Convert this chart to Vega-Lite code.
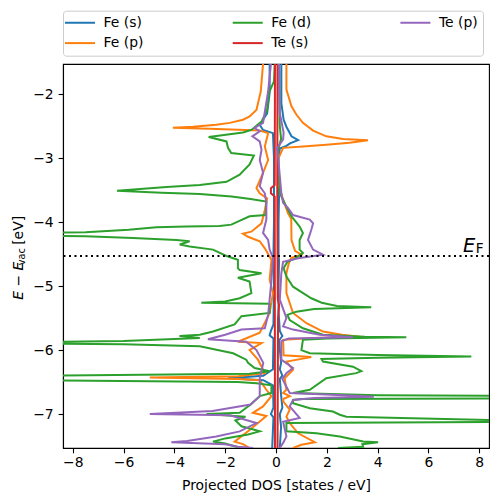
{
"$schema":"https://vega.github.io/schema/vega-lite/v6.json",
"width":426,"height":384,
"autosize":{"type":"none"},
"padding":{"left":63,"top":64,"right":9,"bottom":54},
"config":{
 "font":"DejaVu Sans",
 "view":{"stroke":"black","strokeWidth":1.1},
 "axis":{"grid":false,"domainColor":"black","domainWidth":1.1,"tickColor":"black","tickWidth":1.1,"tickSize":4.86,
  "labelFont":"DejaVu Sans","labelFontSize":13.9,"labelColor":"black","labelFlush":false,"labelOverlap":false,
  "titleFont":"DejaVu Sans","titleFontSize":13.9,"titleFontWeight":"normal","titleColor":"black",
  "labelExpr":"(datum.value < 0 ? '−' : '') + abs(datum.value)"}
},
"datasets":{
"dos":[
{"o":"Fe (s)","s":"u","e":-1.53,"d":0.21},{"o":"Fe (s)","s":"u","e":-2.14,"d":0.21},{"o":"Fe (s)","s":"u","e":-2.4,"d":0.3},{"o":"Fe (s)","s":"u","e":-2.51,"d":0.41},{"o":"Fe (s)","s":"u","e":-2.66,"d":0.61},{"o":"Fe (s)","s":"u","e":-2.72,"d":0.87},{"o":"Fe (s)","s":"u","e":-2.77,"d":0.55},{"o":"Fe (s)","s":"u","e":-2.81,"d":0.41},{"o":"Fe (s)","s":"u","e":-2.85,"d":0.15},{"o":"Fe (s)","s":"u","e":-3.0,"d":0.1},{"o":"Fe (s)","s":"u","e":-3.5,"d":0.08},{"o":"Fe (s)","s":"u","e":-3.6,"d":0.12},{"o":"Fe (s)","s":"u","e":-4.0,"d":0.1},{"o":"Fe (s)","s":"u","e":-4.5,"d":0.1},{"o":"Fe (s)","s":"u","e":-4.6,"d":0.12},{"o":"Fe (s)","s":"u","e":-5.0,"d":0.1},{"o":"Fe (s)","s":"u","e":-5.4,"d":0.1},{"o":"Fe (s)","s":"u","e":-5.7,"d":0.15},{"o":"Fe (s)","s":"u","e":-5.78,"d":0.25},{"o":"Fe (s)","s":"u","e":-5.85,"d":0.12},{"o":"Fe (s)","s":"u","e":-6.2,"d":0.2},{"o":"Fe (s)","s":"u","e":-6.3,"d":0.15},{"o":"Fe (s)","s":"u","e":-6.4,"d":0.25},{"o":"Fe (s)","s":"u","e":-6.45,"d":0.15},{"o":"Fe (s)","s":"u","e":-6.7,"d":0.2},{"o":"Fe (s)","s":"u","e":-6.9,"d":0.25},{"o":"Fe (s)","s":"u","e":-7.0,"d":0.15},{"o":"Fe (s)","s":"u","e":-7.2,"d":0.2},{"o":"Fe (s)","s":"u","e":-7.53,"d":0.15},
{"o":"Fe (s)","s":"d","e":-1.53,"d":-0.25},{"o":"Fe (s)","s":"d","e":-1.98,"d":-0.25},{"o":"Fe (s)","s":"d","e":-2.3,"d":-0.35},{"o":"Fe (s)","s":"d","e":-2.48,"d":-0.64},{"o":"Fe (s)","s":"d","e":-2.56,"d":-0.51},{"o":"Fe (s)","s":"d","e":-2.61,"d":-0.12},{"o":"Fe (s)","s":"d","e":-3.0,"d":-0.08},{"o":"Fe (s)","s":"d","e":-4.0,"d":-0.08},{"o":"Fe (s)","s":"d","e":-4.5,"d":-0.1},{"o":"Fe (s)","s":"d","e":-5.0,"d":-0.08},{"o":"Fe (s)","s":"d","e":-5.6,"d":-0.1},{"o":"Fe (s)","s":"d","e":-5.7,"d":-0.2},{"o":"Fe (s)","s":"d","e":-5.77,"d":-0.25},{"o":"Fe (s)","s":"d","e":-5.82,"d":-0.1},{"o":"Fe (s)","s":"d","e":-6.3,"d":-0.12},{"o":"Fe (s)","s":"d","e":-6.4,"d":-0.5},{"o":"Fe (s)","s":"d","e":-6.44,"d":-1.89},{"o":"Fe (s)","s":"d","e":-6.47,"d":-0.5},{"o":"Fe (s)","s":"d","e":-6.55,"d":-0.12},{"o":"Fe (s)","s":"d","e":-6.9,"d":-0.1},{"o":"Fe (s)","s":"d","e":-7.0,"d":-0.2},{"o":"Fe (s)","s":"d","e":-7.05,"d":-0.1},{"o":"Fe (s)","s":"d","e":-7.53,"d":-0.15},
{"o":"Fe (p)","s":"u","e":-1.53,"d":0.41},{"o":"Fe (p)","s":"u","e":-1.93,"d":0.41},{"o":"Fe (p)","s":"u","e":-2.19,"d":0.61},{"o":"Fe (p)","s":"u","e":-2.32,"d":0.8},{"o":"Fe (p)","s":"u","e":-2.45,"d":1.06},{"o":"Fe (p)","s":"u","e":-2.57,"d":1.46},{"o":"Fe (p)","s":"u","e":-2.66,"d":1.98},{"o":"Fe (p)","s":"u","e":-2.7,"d":2.64},{"o":"Fe (p)","s":"u","e":-2.72,"d":3.62},{"o":"Fe (p)","s":"u","e":-2.76,"d":2.9},{"o":"Fe (p)","s":"u","e":-2.79,"d":1.98},{"o":"Fe (p)","s":"u","e":-2.82,"d":1.06},{"o":"Fe (p)","s":"u","e":-2.84,"d":0.28},{"o":"Fe (p)","s":"u","e":-3.0,"d":0.1},{"o":"Fe (p)","s":"u","e":-3.39,"d":0.08},{"o":"Fe (p)","s":"u","e":-3.65,"d":0.28},{"o":"Fe (p)","s":"u","e":-3.86,"d":0.47},{"o":"Fe (p)","s":"u","e":-3.95,"d":0.6},{"o":"Fe (p)","s":"u","e":-4.28,"d":0.61},{"o":"Fe (p)","s":"u","e":-4.45,"d":0.75},{"o":"Fe (p)","s":"u","e":-4.51,"d":1.0},{"o":"Fe (p)","s":"u","e":-4.56,"d":0.6},{"o":"Fe (p)","s":"u","e":-4.65,"d":0.5},{"o":"Fe (p)","s":"u","e":-4.8,"d":0.41},{"o":"Fe (p)","s":"u","e":-5.11,"d":0.41},{"o":"Fe (p)","s":"u","e":-5.42,"d":0.67},{"o":"Fe (p)","s":"u","e":-5.58,"d":1.2},{"o":"Fe (p)","s":"u","e":-5.71,"d":1.85},{"o":"Fe (p)","s":"u","e":-5.76,"d":2.6},{"o":"Fe (p)","s":"u","e":-5.79,"d":3.3},{"o":"Fe (p)","s":"u","e":-5.81,"d":1.5},{"o":"Fe (p)","s":"u","e":-5.84,"d":0.28},{"o":"Fe (p)","s":"u","e":-6.08,"d":0.3},{"o":"Fe (p)","s":"u","e":-6.11,"d":1.39},{"o":"Fe (p)","s":"u","e":-6.18,"d":0.41},{"o":"Fe (p)","s":"u","e":-6.31,"d":0.67},{"o":"Fe (p)","s":"u","e":-6.44,"d":0.34},{"o":"Fe (p)","s":"u","e":-6.62,"d":0.41},{"o":"Fe (p)","s":"u","e":-6.67,"d":0.28},{"o":"Fe (p)","s":"u","e":-6.72,"d":0.54},{"o":"Fe (p)","s":"u","e":-6.76,"d":0.3},{"o":"Fe (p)","s":"u","e":-6.8,"d":0.28},{"o":"Fe (p)","s":"u","e":-6.93,"d":0.54},{"o":"Fe (p)","s":"u","e":-7.04,"d":0.41},{"o":"Fe (p)","s":"u","e":-7.14,"d":0.54},{"o":"Fe (p)","s":"u","e":-7.3,"d":0.87},{"o":"Fe (p)","s":"u","e":-7.44,"d":1.53},{"o":"Fe (p)","s":"u","e":-7.48,"d":1.0},{"o":"Fe (p)","s":"u","e":-7.53,"d":0.67},
{"o":"Fe (p)","s":"d","e":-1.53,"d":-0.51},{"o":"Fe (p)","s":"d","e":-1.96,"d":-0.6},{"o":"Fe (p)","s":"d","e":-2.25,"d":-0.77},{"o":"Fe (p)","s":"d","e":-2.35,"d":-1.04},{"o":"Fe (p)","s":"d","e":-2.4,"d":-1.3},{"o":"Fe (p)","s":"d","e":-2.45,"d":-1.82},{"o":"Fe (p)","s":"d","e":-2.48,"d":-2.35},{"o":"Fe (p)","s":"d","e":-2.51,"d":-3.27},{"o":"Fe (p)","s":"d","e":-2.525,"d":-4.06},{"o":"Fe (p)","s":"d","e":-2.54,"d":-2.61},{"o":"Fe (p)","s":"d","e":-2.57,"d":-0.64},{"o":"Fe (p)","s":"d","e":-2.61,"d":-0.31},{"o":"Fe (p)","s":"d","e":-2.82,"d":-0.44},{"o":"Fe (p)","s":"d","e":-3.03,"d":-0.31},{"o":"Fe (p)","s":"d","e":-3.23,"d":-0.51},{"o":"Fe (p)","s":"d","e":-3.47,"d":-0.77},{"o":"Fe (p)","s":"d","e":-3.55,"d":-0.64},{"o":"Fe (p)","s":"d","e":-3.63,"d":-0.35},{"o":"Fe (p)","s":"d","e":-3.81,"d":-0.44},{"o":"Fe (p)","s":"d","e":-4.02,"d":-0.57},{"o":"Fe (p)","s":"d","e":-4.15,"d":-0.97},{"o":"Fe (p)","s":"d","e":-4.18,"d":-1.3},{"o":"Fe (p)","s":"d","e":-4.23,"d":-1.1},{"o":"Fe (p)","s":"d","e":-4.3,"d":-0.64},{"o":"Fe (p)","s":"d","e":-4.41,"d":-0.44},{"o":"Fe (p)","s":"d","e":-4.54,"d":-0.25},{"o":"Fe (p)","s":"d","e":-4.59,"d":-0.18},{"o":"Fe (p)","s":"d","e":-4.9,"d":-0.25},{"o":"Fe (p)","s":"d","e":-5.11,"d":-0.12},{"o":"Fe (p)","s":"d","e":-5.42,"d":-0.25},{"o":"Fe (p)","s":"d","e":-5.47,"d":-0.31},{"o":"Fe (p)","s":"d","e":-5.73,"d":-0.64},{"o":"Fe (p)","s":"d","e":-5.87,"d":-1.5},{"o":"Fe (p)","s":"d","e":-5.89,"d":-0.57},{"o":"Fe (p)","s":"d","e":-6.0,"d":-1.04},{"o":"Fe (p)","s":"d","e":-6.15,"d":-0.71},{"o":"Fe (p)","s":"d","e":-6.36,"d":-0.44},{"o":"Fe (p)","s":"d","e":-6.41,"d":-1.5},{"o":"Fe (p)","s":"d","e":-6.43,"d":-4.97},{"o":"Fe (p)","s":"d","e":-6.45,"d":-1.5},{"o":"Fe (p)","s":"d","e":-6.47,"d":-0.64},{"o":"Fe (p)","s":"d","e":-6.62,"d":-0.38},{"o":"Fe (p)","s":"d","e":-6.72,"d":-0.18},{"o":"Fe (p)","s":"d","e":-6.88,"d":-0.51},{"o":"Fe (p)","s":"d","e":-6.98,"d":-0.91},{"o":"Fe (p)","s":"d","e":-7.03,"d":-0.38},{"o":"Fe (p)","s":"d","e":-7.25,"d":-1.04},{"o":"Fe (p)","s":"d","e":-7.43,"d":-1.63},{"o":"Fe (p)","s":"d","e":-7.47,"d":-1.3},{"o":"Fe (p)","s":"d","e":-7.53,"d":-1.04},
{"o":"Fe (d)","s":"u","e":-1.53,"d":0.12},{"o":"Fe (d)","s":"u","e":-2.5,"d":0.15},{"o":"Fe (d)","s":"u","e":-2.7,"d":0.2},{"o":"Fe (d)","s":"u","e":-2.85,"d":0.1},{"o":"Fe (d)","s":"u","e":-3.03,"d":0.08},{"o":"Fe (d)","s":"u","e":-3.55,"d":0.15},{"o":"Fe (d)","s":"u","e":-3.76,"d":0.41},{"o":"Fe (d)","s":"u","e":-3.91,"d":0.61},{"o":"Fe (d)","s":"u","e":-4.07,"d":0.93},{"o":"Fe (d)","s":"u","e":-4.17,"d":1.06},{"o":"Fe (d)","s":"u","e":-4.28,"d":0.93},{"o":"Fe (d)","s":"u","e":-4.43,"d":0.93},{"o":"Fe (d)","s":"u","e":-4.48,"d":1.06},{"o":"Fe (d)","s":"u","e":-4.56,"d":0.8},{"o":"Fe (d)","s":"u","e":-4.62,"d":0.45},{"o":"Fe (d)","s":"u","e":-4.72,"d":0.3},{"o":"Fe (d)","s":"u","e":-4.85,"d":0.41},{"o":"Fe (d)","s":"u","e":-5.01,"d":0.67},{"o":"Fe (d)","s":"u","e":-5.19,"d":1.39},{"o":"Fe (d)","s":"u","e":-5.26,"d":1.8},{"o":"Fe (d)","s":"u","e":-5.31,"d":2.4},{"o":"Fe (d)","s":"u","e":-5.33,"d":3.75},{"o":"Fe (d)","s":"u","e":-5.36,"d":1.5},{"o":"Fe (d)","s":"u","e":-5.4,"d":0.8},{"o":"Fe (d)","s":"u","e":-5.45,"d":0.45},{"o":"Fe (d)","s":"u","e":-5.53,"d":0.54},{"o":"Fe (d)","s":"u","e":-5.66,"d":1.06},{"o":"Fe (d)","s":"u","e":-5.76,"d":1.85},{"o":"Fe (d)","s":"u","e":-5.79,"d":3.5},{"o":"Fe (d)","s":"u","e":-5.8,"d":5.13},{"o":"Fe (d)","s":"u","e":-5.82,"d":2.0},{"o":"Fe (d)","s":"u","e":-5.84,"d":1.06},{"o":"Fe (d)","s":"u","e":-6.0,"d":1.0},{"o":"Fe (d)","s":"u","e":-6.05,"d":1.33},{"o":"Fe (d)","s":"u","e":-6.075,"d":4.0},{"o":"Fe (d)","s":"u","e":-6.1,"d":7.69},{"o":"Fe (d)","s":"u","e":-6.12,"d":4.0},{"o":"Fe (d)","s":"u","e":-6.14,"d":1.79},{"o":"Fe (d)","s":"u","e":-6.18,"d":1.85},{"o":"Fe (d)","s":"u","e":-6.26,"d":3.03},{"o":"Fe (d)","s":"u","e":-6.33,"d":3.36},{"o":"Fe (d)","s":"u","e":-6.36,"d":3.16},{"o":"Fe (d)","s":"u","e":-6.44,"d":1.98},{"o":"Fe (d)","s":"u","e":-6.62,"d":1.33},{"o":"Fe (d)","s":"u","e":-6.67,"d":0.67},{"o":"Fe (d)","s":"u","e":-6.705,"d":4.0},{"o":"Fe (d)","s":"u","e":-6.715,"d":9.0},{"o":"Fe (d)","s":"u","e":-6.735,"d":14.0},{"o":"Fe (d)","s":"u","e":-6.755,"d":9.0},{"o":"Fe (d)","s":"u","e":-6.765,"d":1.0},{"o":"Fe (d)","s":"u","e":-6.78,"d":0.67},{"o":"Fe (d)","s":"u","e":-6.83,"d":0.67},{"o":"Fe (d)","s":"u","e":-6.91,"d":1.33},{"o":"Fe (d)","s":"u","e":-6.96,"d":2.24},{"o":"Fe (d)","s":"u","e":-7.01,"d":2.51},{"o":"Fe (d)","s":"u","e":-7.04,"d":2.77},{"o":"Fe (d)","s":"u","e":-7.095,"d":8.5},{"o":"Fe (d)","s":"u","e":-7.11,"d":14.0},{"o":"Fe (d)","s":"u","e":-7.125,"d":8.5},{"o":"Fe (d)","s":"u","e":-7.14,"d":0.41},{"o":"Fe (d)","s":"u","e":-7.27,"d":0.41},{"o":"Fe (d)","s":"u","e":-7.3,"d":1.59},{"o":"Fe (d)","s":"u","e":-7.35,"d":2.51},{"o":"Fe (d)","s":"u","e":-7.43,"d":3.43},{"o":"Fe (d)","s":"u","e":-7.44,"d":4.02},{"o":"Fe (d)","s":"u","e":-7.47,"d":3.4},{"o":"Fe (d)","s":"u","e":-7.51,"d":3.43},{"o":"Fe (d)","s":"u","e":-7.53,"d":2.44},
{"o":"Fe (d)","s":"d","e":-1.53,"d":-0.05},{"o":"Fe (d)","s":"d","e":-1.8,"d":-0.08},{"o":"Fe (d)","s":"d","e":-1.98,"d":-0.28},{"o":"Fe (d)","s":"d","e":-2.25,"d":-0.35},{"o":"Fe (d)","s":"d","e":-2.43,"d":-0.57},{"o":"Fe (d)","s":"d","e":-2.56,"d":-0.97},{"o":"Fe (d)","s":"d","e":-2.6,"d":-1.3},{"o":"Fe (d)","s":"d","e":-2.67,"d":-2.65},{"o":"Fe (d)","s":"d","e":-2.74,"d":-1.95},{"o":"Fe (d)","s":"d","e":-2.84,"d":-1.89},{"o":"Fe (d)","s":"d","e":-2.92,"d":-1.76},{"o":"Fe (d)","s":"d","e":-2.96,"d":-0.87},{"o":"Fe (d)","s":"d","e":-3.1,"d":-1.04},{"o":"Fe (d)","s":"d","e":-3.26,"d":-1.43},{"o":"Fe (d)","s":"d","e":-3.37,"d":-1.95},{"o":"Fe (d)","s":"d","e":-3.42,"d":-3.0},{"o":"Fe (d)","s":"d","e":-3.45,"d":-4.31},{"o":"Fe (d)","s":"d","e":-3.51,"d":-6.26},{"o":"Fe (d)","s":"d","e":-3.54,"d":-4.5},{"o":"Fe (d)","s":"d","e":-3.56,"d":-3.0},{"o":"Fe (d)","s":"d","e":-3.6,"d":-1.75},{"o":"Fe (d)","s":"d","e":-3.64,"d":-1.0},{"o":"Fe (d)","s":"d","e":-3.68,"d":-0.38},{"o":"Fe (d)","s":"d","e":-3.89,"d":-0.41},{"o":"Fe (d)","s":"d","e":-3.91,"d":-1.04},{"o":"Fe (d)","s":"d","e":-4.04,"d":-1.76},{"o":"Fe (d)","s":"d","e":-4.06,"d":-2.22},{"o":"Fe (d)","s":"d","e":-4.07,"d":-3.53},{"o":"Fe (d)","s":"d","e":-4.08,"d":-4.71},{"o":"Fe (d)","s":"d","e":-4.12,"d":-5.8},{"o":"Fe (d)","s":"d","e":-4.16,"d":-7.5},{"o":"Fe (d)","s":"d","e":-4.19,"d":-14.0},{"o":"Fe (d)","s":"d","e":-4.22,"d":-7.5},{"o":"Fe (d)","s":"d","e":-4.25,"d":-5.63},{"o":"Fe (d)","s":"d","e":-4.28,"d":-3.92},{"o":"Fe (d)","s":"d","e":-4.3,"d":-3.4},{"o":"Fe (d)","s":"d","e":-4.35,"d":-3.79},{"o":"Fe (d)","s":"d","e":-4.38,"d":-3.4},{"o":"Fe (d)","s":"d","e":-4.43,"d":-2.48},{"o":"Fe (d)","s":"d","e":-4.53,"d":-1.95},{"o":"Fe (d)","s":"d","e":-4.59,"d":-1.5},{"o":"Fe (d)","s":"d","e":-4.72,"d":-1.5},{"o":"Fe (d)","s":"d","e":-4.75,"d":-1.43},{"o":"Fe (d)","s":"d","e":-4.8,"d":-0.57},{"o":"Fe (d)","s":"d","e":-4.87,"d":-1.5},{"o":"Fe (d)","s":"d","e":-4.93,"d":-1.04},{"o":"Fe (d)","s":"d","e":-5.11,"d":-0.97},{"o":"Fe (d)","s":"d","e":-5.19,"d":-1.43},{"o":"Fe (d)","s":"d","e":-5.24,"d":-2.0},{"o":"Fe (d)","s":"d","e":-5.26,"d":-2.94},{"o":"Fe (d)","s":"d","e":-5.275,"d":-0.25},{"o":"Fe (d)","s":"d","e":-5.42,"d":-0.25},{"o":"Fe (d)","s":"d","e":-5.47,"d":-1.36},{"o":"Fe (d)","s":"d","e":-5.6,"d":-1.63},{"o":"Fe (d)","s":"d","e":-5.71,"d":-2.48},{"o":"Fe (d)","s":"d","e":-5.76,"d":-3.0},{"o":"Fe (d)","s":"d","e":-5.78,"d":-3.8},{"o":"Fe (d)","s":"d","e":-5.81,"d":-3.0},{"o":"Fe (d)","s":"d","e":-5.86,"d":-6.0},{"o":"Fe (d)","s":"d","e":-5.885,"d":-12.0},{"o":"Fe (d)","s":"d","e":-5.91,"d":-6.0},{"o":"Fe (d)","s":"d","e":-5.94,"d":-3.0},{"o":"Fe (d)","s":"d","e":-6.05,"d":-1.69},{"o":"Fe (d)","s":"d","e":-6.15,"d":-1.17},{"o":"Fe (d)","s":"d","e":-6.2,"d":-1.1},{"o":"Fe (d)","s":"d","e":-6.28,"d":-0.84},{"o":"Fe (d)","s":"d","e":-6.33,"d":-0.25},{"o":"Fe (d)","s":"d","e":-6.37,"d":-1.04},{"o":"Fe (d)","s":"d","e":-6.4,"d":-9.0},{"o":"Fe (d)","s":"d","e":-6.44,"d":-16.0},{"o":"Fe (d)","s":"d","e":-6.475,"d":-9.0},{"o":"Fe (d)","s":"d","e":-6.5,"d":-1.5},{"o":"Fe (d)","s":"d","e":-6.52,"d":-0.77},{"o":"Fe (d)","s":"d","e":-6.55,"d":-0.18},{"o":"Fe (d)","s":"d","e":-6.67,"d":-0.18},{"o":"Fe (d)","s":"d","e":-6.72,"d":-0.64},{"o":"Fe (d)","s":"d","e":-6.85,"d":-1.0},{"o":"Fe (d)","s":"d","e":-6.98,"d":-1.43},{"o":"Fe (d)","s":"d","e":-7.0,"d":-2.74},{"o":"Fe (d)","s":"d","e":-7.04,"d":-1.2},{"o":"Fe (d)","s":"d","e":-7.1,"d":-1.6},{"o":"Fe (d)","s":"d","e":-7.19,"d":-1.36},{"o":"Fe (d)","s":"d","e":-7.27,"d":-0.64},{"o":"Fe (d)","s":"d","e":-7.32,"d":-1.1},{"o":"Fe (d)","s":"d","e":-7.38,"d":-2.0},{"o":"Fe (d)","s":"d","e":-7.43,"d":-2.48},{"o":"Fe (d)","s":"d","e":-7.46,"d":-2.0},{"o":"Fe (d)","s":"d","e":-7.51,"d":-1.56},{"o":"Fe (d)","s":"d","e":-7.53,"d":-1.4},
{"o":"Te (s)","s":"u","e":-1.53,"d":0.06},{"o":"Te (s)","s":"u","e":-3.5,"d":0.05},{"o":"Te (s)","s":"u","e":-5.2,"d":0.07},{"o":"Te (s)","s":"u","e":-5.3,"d":0.12},{"o":"Te (s)","s":"u","e":-5.5,"d":0.08},{"o":"Te (s)","s":"u","e":-7.53,"d":0.06},
{"o":"Te (s)","s":"d","e":-1.53,"d":-0.04},{"o":"Te (s)","s":"d","e":-3.42,"d":-0.05},{"o":"Te (s)","s":"d","e":-3.47,"d":-0.2},{"o":"Te (s)","s":"d","e":-3.55,"d":-0.2},{"o":"Te (s)","s":"d","e":-3.6,"d":-0.05},{"o":"Te (s)","s":"d","e":-7.53,"d":-0.04},
{"o":"Te (p)","s":"u","e":-1.53,"d":0.12},{"o":"Te (p)","s":"u","e":-2.3,"d":0.15},{"o":"Te (p)","s":"u","e":-2.6,"d":0.3},{"o":"Te (p)","s":"u","e":-2.71,"d":0.28},{"o":"Te (p)","s":"u","e":-2.84,"d":0.05},{"o":"Te (p)","s":"u","e":-2.97,"d":0.08},{"o":"Te (p)","s":"u","e":-3.55,"d":0.21},{"o":"Te (p)","s":"u","e":-3.7,"d":0.28},{"o":"Te (p)","s":"u","e":-3.78,"d":0.47},{"o":"Te (p)","s":"u","e":-3.89,"d":0.67},{"o":"Te (p)","s":"u","e":-3.96,"d":1.33},{"o":"Te (p)","s":"u","e":-4.02,"d":1.46},{"o":"Te (p)","s":"u","e":-4.12,"d":1.39},{"o":"Te (p)","s":"u","e":-4.28,"d":1.26},{"o":"Te (p)","s":"u","e":-4.43,"d":1.46},{"o":"Te (p)","s":"u","e":-4.51,"d":1.85},{"o":"Te (p)","s":"u","e":-4.56,"d":0.93},{"o":"Te (p)","s":"u","e":-4.62,"d":0.28},{"o":"Te (p)","s":"u","e":-4.8,"d":0.21},{"o":"Te (p)","s":"u","e":-5.21,"d":0.15},{"o":"Te (p)","s":"u","e":-5.5,"d":0.41},{"o":"Te (p)","s":"u","e":-5.63,"d":0.28},{"o":"Te (p)","s":"u","e":-5.68,"d":0.67},{"o":"Te (p)","s":"u","e":-5.76,"d":1.72},{"o":"Te (p)","s":"u","e":-5.8,"d":3.03},{"o":"Te (p)","s":"u","e":-5.82,"d":0.5},{"o":"Te (p)","s":"u","e":-5.86,"d":0.21},{"o":"Te (p)","s":"u","e":-6.15,"d":0.21},{"o":"Te (p)","s":"u","e":-6.28,"d":0.67},{"o":"Te (p)","s":"u","e":-6.36,"d":0.41},{"o":"Te (p)","s":"u","e":-6.45,"d":0.25},{"o":"Te (p)","s":"u","e":-6.67,"d":0.54},{"o":"Te (p)","s":"u","e":-6.71,"d":2.9},{"o":"Te (p)","s":"u","e":-6.73,"d":3.85},{"o":"Te (p)","s":"u","e":-6.75,"d":1.5},{"o":"Te (p)","s":"u","e":-6.78,"d":0.67},{"o":"Te (p)","s":"u","e":-6.88,"d":0.54},{"o":"Te (p)","s":"u","e":-7.06,"d":0.93},{"o":"Te (p)","s":"u","e":-7.12,"d":0.28},{"o":"Te (p)","s":"u","e":-7.35,"d":0.41},{"o":"Te (p)","s":"u","e":-7.45,"d":0.28},{"o":"Te (p)","s":"u","e":-7.53,"d":0.15},
{"o":"Te (p)","s":"d","e":-1.53,"d":-0.2},{"o":"Te (p)","s":"d","e":-1.96,"d":-0.31},{"o":"Te (p)","s":"d","e":-2.45,"d":-0.51},{"o":"Te (p)","s":"d","e":-2.53,"d":-0.84},{"o":"Te (p)","s":"d","e":-2.58,"d":-0.64},{"o":"Te (p)","s":"d","e":-2.66,"d":-0.93},{"o":"Te (p)","s":"d","e":-2.74,"d":-0.64},{"o":"Te (p)","s":"d","e":-2.87,"d":-0.57},{"o":"Te (p)","s":"d","e":-3.03,"d":-0.64},{"o":"Te (p)","s":"d","e":-3.23,"d":-0.51},{"o":"Te (p)","s":"d","e":-3.44,"d":-0.64},{"o":"Te (p)","s":"d","e":-3.55,"d":-0.44},{"o":"Te (p)","s":"d","e":-3.7,"d":-0.38},{"o":"Te (p)","s":"d","e":-3.96,"d":-0.38},{"o":"Te (p)","s":"d","e":-4.17,"d":-0.51},{"o":"Te (p)","s":"d","e":-4.28,"d":-0.31},{"o":"Te (p)","s":"d","e":-4.43,"d":-0.25},{"o":"Te (p)","s":"d","e":-4.56,"d":-0.12},{"o":"Te (p)","s":"d","e":-5.0,"d":-0.2},{"o":"Te (p)","s":"d","e":-5.45,"d":-0.31},{"o":"Te (p)","s":"d","e":-5.66,"d":-0.44},{"o":"Te (p)","s":"d","e":-5.68,"d":-1.36},{"o":"Te (p)","s":"d","e":-5.76,"d":-2.0},{"o":"Te (p)","s":"d","e":-5.83,"d":-2.68},{"o":"Te (p)","s":"d","e":-5.87,"d":-1.17},{"o":"Te (p)","s":"d","e":-6.0,"d":-0.77},{"o":"Te (p)","s":"d","e":-6.2,"d":-0.5},{"o":"Te (p)","s":"d","e":-6.44,"d":-0.64},{"o":"Te (p)","s":"d","e":-6.72,"d":-0.64},{"o":"Te (p)","s":"d","e":-6.85,"d":-1.0},{"o":"Te (p)","s":"d","e":-6.95,"d":-2.5},{"o":"Te (p)","s":"d","e":-7.0,"d":-4.97},{"o":"Te (p)","s":"d","e":-7.02,"d":-1.82},{"o":"Te (p)","s":"d","e":-7.14,"d":-0.77},{"o":"Te (p)","s":"d","e":-7.27,"d":-1.43},{"o":"Te (p)","s":"d","e":-7.35,"d":-2.35},{"o":"Te (p)","s":"d","e":-7.42,"d":-3.5},{"o":"Te (p)","s":"d","e":-7.44,"d":-4.12},{"o":"Te (p)","s":"d","e":-7.47,"d":-2.0},{"o":"Te (p)","s":"d","e":-7.51,"d":-1.5},{"o":"Te (p)","s":"d","e":-7.53,"d":-0.9}
],
"ef":[{"e":-4.53}],
"one":[{"k":1}]
},
"layer":[
 {"data":{"name":"dos"},
  "mark":{"type":"line","strokeWidth":2,"clip":true},
  "encoding":{
   "x":{"field":"d","type":"quantitative","scale":{"domain":[-8.385,8.385],"nice":false,"zero":false},
        "axis":{"values":[-8,-6,-4,-2,0,2,4,6,8],"labelPadding":2.5,"title":"Projected DOS [states / eV]","titlePadding":9}},
   "y":{"field":"e","type":"quantitative","scale":{"domain":[-7.53,-1.53],"nice":false,"zero":false},
        "axis":{"values":[-7,-6,-5,-4,-3,-2],"labelPadding":5,"title":null}},
   "color":{"field":"o","type":"nominal",
     "scale":{"domain":["Fe (s)","Fe (p)","Fe (d)","Te (s)","Te (p)"],"range":["#1f77b4","#ff7f0e","#2ca02c","#d62728","#9467bd"]},
     "legend":{"title":null,"orient":"none","legendX":0,"legendY":-53.3,"columns":3,"gridAlign":"all",
       "symbolType":"M-2.5,0H2.5","symbolSize":144,"symbolStrokeWidth":2,"symbolOffset":5,
       "labelFont":"DejaVu Sans","labelFontSize":13.9,"labelColor":"black","labelOffset":16.6,
       "columnPadding":84.7,"rowPadding":6.4,"padding":5,"strokeColor":"#cccccc","cornerRadius":3,"fillColor":"white"}},
   "detail":{"field":"s","type":"nominal"},
   "order":{"field":"e","type":"quantitative"}
  }},
 {"data":{"name":"ef"},
  "mark":{"type":"rule","color":"black","strokeWidth":2,"strokeDash":[2,3.5]},
  "encoding":{"y":{"field":"e","type":"quantitative"}}},
 {"data":{"name":"one"},
  "mark":{"type":"text","text":"E","font":"DejaVu Sans","fontStyle":"italic","fontSize":19.4,"align":"left","baseline":"alphabetic","color":"black"},
  "encoding":{"x":{"datum":7.36},"y":{"datum":-4.469}}},
 {"data":{"name":"one"},
  "mark":{"type":"text","text":"F","font":"DejaVu Sans","fontSize":13.6,"align":"left","baseline":"alphabetic","color":"black"},
  "encoding":{"x":{"datum":7.86},"y":{"datum":-4.4875}}},
 {"data":{"name":"one"},
  "mark":{"type":"text","text":"E − E","font":"DejaVu Sans","fontStyle":"italic","fontSize":13.9,"angle":270,"align":"left","baseline":"alphabetic","color":"black"},
  "encoding":{"x":{"datum":-9.96},"y":{"datum":-5.214}}},
 {"data":{"name":"one"},
  "mark":{"type":"text","text":"vac","font":"DejaVu Sans","fontSize":9.7,"angle":270,"align":"left","baseline":"alphabetic","color":"black"},
  "encoding":{"x":{"datum":-9.894},"y":{"datum":-4.675}}},
 {"data":{"name":"one"},
  "mark":{"type":"text","text":"[eV]","font":"DejaVu Sans","fontSize":13.9,"angle":270,"align":"left","baseline":"alphabetic","color":"black"},
  "encoding":{"x":{"datum":-9.96},"y":{"datum":-4.355}}}
]
}
